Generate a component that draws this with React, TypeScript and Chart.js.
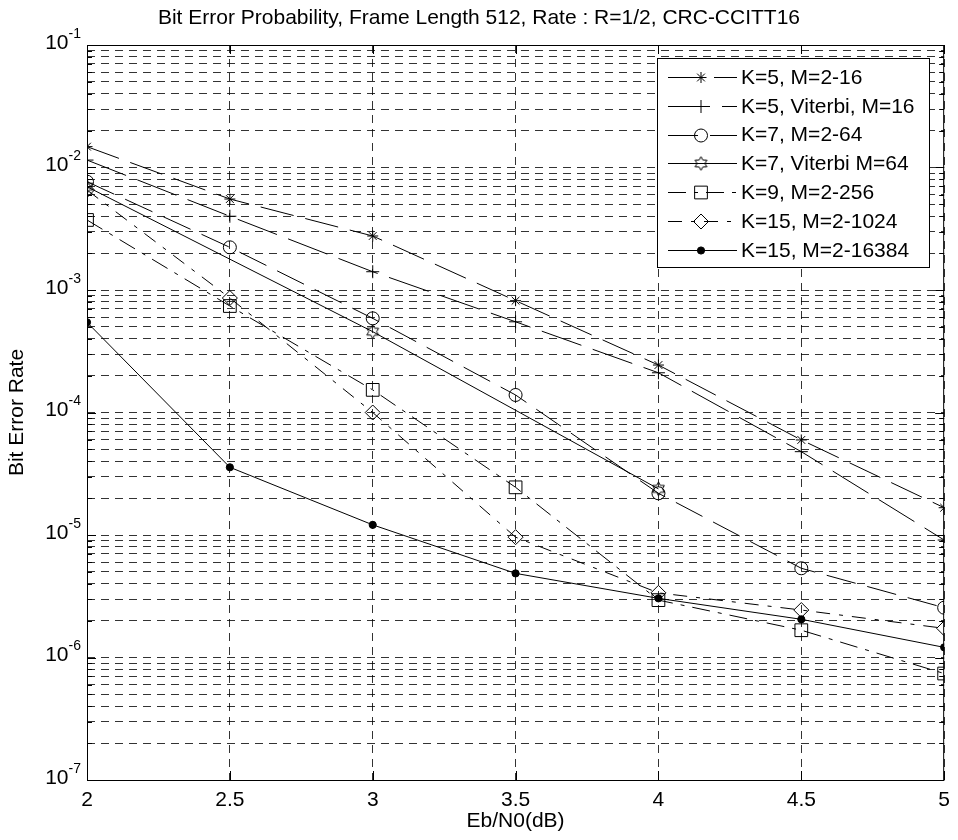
import React, { useEffect, useRef } from 'react';
import { Chart, registerables } from 'chart.js';
import { drawPoint } from 'chart.js/helpers';

Chart.register(...registerables);

const FONT = "'Liberation Sans', Arial, Helvetica, sans-serif";

const titleText = 'Bit Error Probability, Frame Length 512, Rate : R=1/2, CRC-CCITT16';
const xAxisTitle = 'Eb/N0(dB)';
const yAxisTitle = 'Bit Error Rate';

const ebN0 = [2, 2.5, 3, 3.5, 4, 4.5, 5];
const xTickLabels = ['2', '2.5', '3', '3.5', '4', '4.5', '5'];
const yDecadeExponents = [-1, -2, -3, -4, -5, -6, -7];

const berK5M2to16 = [1.48e-2, 5.53e-3, 2.76e-3, 8.18e-4, 2.44e-4, 5.97e-5, 1.67e-5];
const berK5ViterbiM16 = [1.15e-2, 4.0e-3, 1.41e-3, 5.5e-4, 2.11e-4, 4.79e-5, 9.1e-6];
const berK7M2to64 = [7.66e-3, 2.23e-3, 5.87e-4, 1.39e-4, 2.19e-5, 5.35e-6, 2.55e-6];
const berK7ViterbiM64 = [6.97e-3, null, 4.57e-4, null, 2.38e-5, null, null];
const berK9M2to256 = [3.73e-3, 7.4e-4, 1.53e-4, 2.45e-5, 2.94e-6, 1.67e-6, 7.4e-7];
const berK15M2to1024 = [6.55e-3, 8.6e-4, 1.0e-4, 9.6e-6, 3.37e-6, 2.44e-6, 1.73e-6];
const berK15M2to16384 = [5.45e-4, 3.57e-5, 1.21e-5, 4.86e-6, 3.04e-6, 2.05e-6, 1.21e-6];

const seriesLabels = [
  'K=5, M=2-16',
  'K=5, Viterbi, M=16',
  'K=7, M=2-64',
  'K=7, Viterbi M=64',
  'K=9, M=2-256',
  'K=15, M=2-1024',
  'K=15, M=2-16384',
];
const seriesValues = [
  berK5M2to16,
  berK5ViterbiM16,
  berK7M2to64,
  berK7ViterbiM64,
  berK9M2to256,
  berK15M2to1024,
  berK15M2to16384,
];

function makeHexagram(): HTMLCanvasElement {
  const size = 17;
  const c = document.createElement('canvas');
  c.width = size;
  c.height = size;
  const g = c.getContext('2d')!;
  const cx = size / 2, cy = size / 2;
  const R = 6.8, r = R / Math.sqrt(3);
  g.beginPath();
  for (let i = 0; i < 12; i++) {
    const ang = -Math.PI / 2 + (i * Math.PI) / 6;
    const rad = i % 2 === 0 ? R : r;
    const px = cx + rad * Math.cos(ang);
    const py = cy + rad * Math.sin(ang);
    if (i === 0) g.moveTo(px, py);
    else g.lineTo(px, py);
  }
  g.closePath();
  g.strokeStyle = '#000';
  g.lineWidth = 1;
  g.stroke();
  return c;
}

export default function App() {
  const ref = useRef<HTMLCanvasElement>(null);

  useEffect(() => {
    const canvas = ref.current!;
    const hex = makeHexagram();
    const styles: any[] = [
      { pointStyle: 'star', radius: 5.5, dash: [34, 12], fill: 'rgba(0,0,0,0)' },
      { pointStyle: 'cross', radius: 6.5, dash: [42, 12], fill: 'rgba(0,0,0,0)' },
      { pointStyle: 'circle', radius: 6.5, dash: [30, 12], fill: 'rgba(0,0,0,0)' },
      { pointStyle: hex, radius: 7, dash: [], fill: 'rgba(0,0,0,0)' },
      { pointStyle: 'rect', radius: 9, dash: [18, 8, 4, 8], fill: 'rgba(0,0,0,0)' },
      { pointStyle: 'rectRot', radius: 7.5, dash: [14, 9, 4, 9], fill: 'rgba(0,0,0,0)' },
      { pointStyle: 'circle', radius: 3.6, dash: [], fill: '#000' },
    ];

    const datasets = seriesLabels.map((label, i) => ({
      label,
      data: ebN0.map((x, j) => ({ x, y: seriesValues[i][j] })),
      borderColor: '#000',
      backgroundColor: styles[i].fill,
      borderWidth: 1,
      borderDash: styles[i].dash,
      pointStyle: styles[i].pointStyle,
      pointRadius: styles[i].radius,
      pointBorderColor: '#000',
      pointBackgroundColor: styles[i].fill,
      pointBorderWidth: 1,
      spanGaps: true,
      tension: 0,
      fill: false,
    }));

    const decor = {
      id: 'decor',
      afterDatasetsDraw(chart: any) {
        const { ctx, chartArea: a, scales } = chart;
        const xs = scales.x;
        const ys = scales.y;
        ctx.save();
        ctx.setLineDash([]);
        ctx.strokeStyle = '#000';
        ctx.lineWidth = 1;
        // frame
        ctx.strokeRect(a.left + 0.5, a.top + 0.5, a.right - a.left - 1, a.bottom - a.top);

        // inner tick marks
        ctx.beginPath();
        ys.ticks.forEach((t: any) => {
          const y = Math.round(ys.getPixelForValue(t.value)) + 0.5;
          const mant = Math.round(t.value / Math.pow(10, Math.floor(Math.log10(t.value) + 1e-9)));
          const len = mant === 1 ? 9 : 5;
          ctx.moveTo(a.left, y);
          ctx.lineTo(a.left + len, y);
          ctx.moveTo(a.right, y);
          ctx.lineTo(a.right - len, y);
        });
        xs.ticks.forEach((t: any) => {
          const x = Math.round(xs.getPixelForValue(t.value)) + 0.5;
          ctx.moveTo(x, a.bottom);
          ctx.lineTo(x, a.bottom - 9);
          ctx.moveTo(x, a.top);
          ctx.lineTo(x, a.top + 9);
        });
        ctx.stroke();

        // y tick labels with superscripts
        ctx.fillStyle = '#000';
        yDecadeExponents.forEach((e) => {
          const y = ys.getPixelForValue(Math.pow(10, e));
          const sup = '-' + String(Math.abs(e));
          ctx.font = `14px ${FONT}`;
          const supW = ctx.measureText(sup).width;
          ctx.font = `21px ${FONT}`;
          const tenW = ctx.measureText('10').width;
          const right = a.left - 6;
          ctx.textBaseline = 'middle';
          ctx.textAlign = 'left';
          ctx.fillText('10', right - supW - tenW, y - 2);
          ctx.font = `14px ${FONT}`;
          ctx.fillText(sup, right - supW, y - 11);
        });

        // title
        ctx.font = `21px ${FONT}`;
        ctx.textAlign = 'center';
        ctx.textBaseline = 'middle';
        ctx.fillText(titleText, 479, 18);

        // legend
        const box = { left: 657, top: 58, right: 929, bottom: 267 };
        ctx.fillStyle = '#fff';
        ctx.fillRect(box.left, box.top, box.right - box.left, box.bottom - box.top);
        ctx.strokeStyle = '#000';
        ctx.lineWidth = 1;
        ctx.strokeRect(box.left + 0.5, box.top + 0.5, box.right - box.left, box.bottom - box.top);
        seriesLabels.forEach((label, i) => {
          const y = 77 + i * 28.8;
          const yy = Math.round(y) + 0.5;
          ctx.save();
          ctx.strokeStyle = '#000';
          ctx.lineWidth = 1;
          ctx.setLineDash(styles[i].dash);
          ctx.beginPath();
          ctx.moveTo(668, yy);
          ctx.lineTo(737, yy);
          ctx.stroke();
          ctx.setLineDash([]);
          ctx.fillStyle = styles[i].fill;
          drawPoint(ctx, { pointStyle: styles[i].pointStyle, radius: styles[i].radius, rotation: 0, borderWidth: 1 } as any, 701, yy);
          ctx.restore();
          ctx.fillStyle = '#000';
          ctx.font = `21px ${FONT}`;
          ctx.textAlign = 'left';
          ctx.textBaseline = 'middle';
          ctx.fillText(label, 741, y + 1);
        });
        ctx.restore();
      },
    };

    const chart = new Chart(canvas, {
      type: 'line',
      data: { datasets: datasets as any },
      plugins: [decor],
      options: {
        animation: false,
        responsive: true,
        maintainAspectRatio: false,
        layout: { padding: { top: 45, right: 12, left: 0, bottom: 0 } },
        plugins: {
          legend: { display: false },
          title: { display: false },
          tooltip: { enabled: false },
        },
        scales: {
          x: {
            type: 'linear',
            min: 2,
            max: 5,
            afterBuildTicks: (scale: any) => {
              scale.ticks = ebN0.map((v) => ({ value: v }));
            },
            afterFit: (scale: any) => {
              scale.height = 60;
            },
            ticks: {
              autoSkip: false,
              maxRotation: 0,
              padding: 8,
              color: '#000',
              font: { family: FONT, size: 21 },
              callback: (_v: any, i: number) => xTickLabels[i],
            },
            grid: { color: 'rgba(0,0,0,0.8)', lineWidth: 1, drawTicks: false },
            border: { display: false, dash: [8, 6] },
            title: {
              display: true,
              text: xAxisTitle,
              color: '#000',
              font: { family: FONT, size: 21 },
              padding: { top: 0, bottom: 6 },
            },
          },
          y: {
            type: 'logarithmic',
            min: 1e-7,
            max: 1e-1,
            afterBuildTicks: (scale: any) => {
              const t: any[] = [];
              for (let e = -7; e <= -2; e++) {
                for (let m = 1; m <= 9; m++) t.push({ value: m * Math.pow(10, e) });
              }
              t.push({ value: 1e-1 });
              scale.ticks = t;
            },
            afterFit: (scale: any) => {
              scale.width = 87;
            },
            ticks: { display: false, autoSkip: false },
            grid: { color: 'rgba(0,0,0,0.8)', lineWidth: 1, drawTicks: false },
            border: { display: false, dash: [8, 6] },
            title: {
              display: true,
              text: yAxisTitle,
              color: '#000',
              font: { family: FONT, size: 21 },
              padding: { top: 5, bottom: 0 },
            },
          },
        },
      },
    });
    return () => chart.destroy();
  }, []);

  return (
    <div style={{ position: 'fixed', left: 0, top: 0, width: 958, height: 840, background: '#fff' }}>
      <canvas ref={ref} />
    </div>
  );
}
